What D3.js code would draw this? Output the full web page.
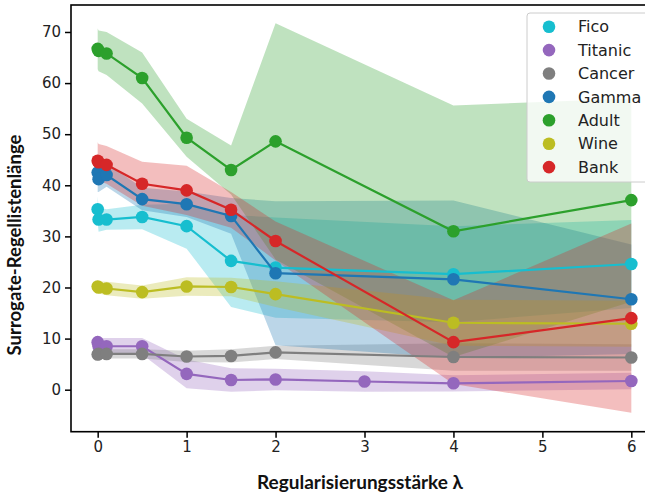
<!DOCTYPE html>
<html>
<head>
<meta charset="utf-8">
<script src="https://cdn.jsdelivr.net/npm/d3@7"></script>
<style>
  body { margin: 0; background: #fff; }
  svg { display: block; }
</style>
</head>
<body>
<div id="myChart"></div>
<script>
// Regularisierungsstärke (x-Werte), null = kein Messpunkt
const lambdas = [0, 0.01, 0.1, 0.5, 1, 1.5, 2, 3, 4, 6];

// Mittelwerte und Standardabweichungen je Datensatz
const fico      = [35.3, 33.3, 33.3, 33.8, 32.0, 25.2, 23.9, null, 22.6, 24.6];
const ficoSd    = [2.5, 2.4, 2.0, 2.4, 4.4, 9.0, 9.8, null, 9.4, 8.6];
const titanic   = [9.3, 8.5, 8.5, 8.5, 3.1, 1.9, 2.0, 1.6, 1.25, 1.7];
const titanicSd = [1.4, 1.6, 1.6, 1.6, 2.8, 2.3, 2.1, 2.0, 1.6, 1.6];
const cancer    = [6.9, 7.0, 7.0, 7.0, 6.5, 6.6, 7.3, null, 6.4, 6.3];
const cancerSd  = [0.9, 0.9, 0.9, 0.9, 1.1, 1.3, 1.3, null, 2.7, 2.6];
const gamma     = [42.5, 41.2, 42.0, 37.3, 36.3, 34.0, 22.8, null, 21.6, 17.7];
const gammaSd   = [3.8, 2.5, 2.3, 2.2, 2.5, 3.5, 14.1, null, 15.4, 10.7];
const adult     = [66.7, 66.3, 65.8, 61.0, 49.3, 43.0, 48.6, null, 31.0, 37.1];
const adultSd   = [4.0, 4.0, 4.2, 5.0, 3.7, 4.8, 23.1, null, 24.6, 19.9];
const wine      = [20.2, 20.0, 19.8, 19.1, 20.2, 20.1, 18.7, null, 13.1, 12.9];
const wineSd    = [1.2, 1.2, 1.3, 1.3, 1.8, 1.8, 2.5, null, 4.5, 4.5];
const bank      = [44.8, 44.5, 44.0, 40.3, 39.0, 35.2, 29.1, null, 9.3, 14.0];
const bankSd    = [3.6, 3.6, 3.7, 4.3, 4.8, 3.5, 3.8, null, 8.2, 18.5];

const seriesNames = ["Fico", "Titanic", "Cancer", "Gamma", "Adult", "Wine", "Bank"];
const colors = ["#17becf", "#9467bd", "#7f7f7f", "#1f77b4", "#2ca02c", "#bcbd22", "#d62728"];

const xTicks = [0, 1, 2, 3, 4, 5, 6];
const yTicks = [0, 10, 20, 30, 40, 50, 60, 70];

const series = [
    [fico, ficoSd], [titanic, titanicSd], [cancer, cancerSd], [gamma, gammaSd],
    [adult, adultSd], [wine, wineSd], [bank, bankSd]
];

// Abmessungen
const width = 645;
const height = 495;
const margin = { top: 5, left: 71 };
const plotW = 587;
const plotH = 426.7;

const svg = d3.select("#myChart")
    .append("svg")
    .attr("width", width)
    .attr("height", height);

const x = d3.scaleLinear().domain([-0.3, 6.3]).range([margin.left, margin.left + plotW]);
const y = d3.scaleLinear().domain([-8.22, 75.28]).range([margin.top + plotH, margin.top]);

svg.append("clipPath").attr("id", "clip")
    .append("rect")
    .attr("x", margin.left).attr("y", margin.top)
    .attr("width", plotW).attr("height", plotH);

const plot = svg.append("g").attr("clip-path", "url(#clip)");
const bandLayer = plot.append("g");
const lineLayer = plot.append("g");

const area = d3.area()
    .x(d => x(d.x))
    .y0(d => y(d.m - d.s))
    .y1(d => y(d.m + d.s));

const line = d3.line()
    .x(d => x(d.x))
    .y(d => y(d.m));

series.forEach(([means, sds], i) => {
    const pts = lambdas
        .map((l, j) => ({ x: l, m: means[j], s: sds[j] }))
        .filter(d => d.m !== null);

    // Streuband
    bandLayer.append("path")
        .datum(pts)
        .attr("d", area)
        .attr("fill", colors[i])
        .attr("fill-opacity", 0.3);

    // Linie + Punkte
    lineLayer.append("path")
        .datum(pts)
        .attr("d", line)
        .attr("fill", "none")
        .attr("stroke", colors[i])
        .attr("stroke-width", 2.2);

    lineLayer.selectAll(".dot" + i)
        .data(pts)
        .enter()
        .append("circle")
        .attr("cx", d => x(d.x))
        .attr("cy", d => y(d.m))
        .attr("r", 6.3)
        .attr("fill", colors[i]);
});

// Achsen
const xAxis = svg.append("g")
    .attr("transform", "translate(0," + (margin.top + plotH) + ")")
    .call(d3.axisBottom(x).tickValues(xTicks).tickFormat(d3.format("d")).tickSize(6).tickPadding(4));

const yAxis = svg.append("g")
    .attr("transform", "translate(" + margin.left + ",0)")
    .call(d3.axisLeft(y).tickValues(yTicks).tickFormat(d3.format("d")).tickSize(6).tickPadding(4));

[xAxis, yAxis].forEach(a => {
    a.select(".domain").remove();
    a.selectAll(".tick line").attr("stroke", "#000").attr("stroke-width", 1.5);
    a.selectAll(".tick text")
        .attr("fill", "#222")
        .style("font-family", "DejaVu Sans")
        .style("font-size", "15px");
});

// Rahmen
svg.append("rect")
    .attr("x", margin.left)
    .attr("y", margin.top)
    .attr("width", plotW)
    .attr("height", plotH)
    .attr("fill", "none")
    .attr("stroke", "#000")
    .attr("stroke-width", 1.6);

// Achsenbeschriftungen
svg.append("text")
    .attr("x", 360)
    .attr("y", 489)
    .attr("text-anchor", "middle")
    .style("font-family", "Lato")
    .style("font-weight", "bold")
    .style("font-size", "19px")
    .attr("fill", "#111")
    .text("Regularisierungsstärke λ");

svg.append("text")
    .attr("transform", "translate(21,245)rotate(-90)")
    .attr("text-anchor", "middle")
    .style("font-family", "Lato")
    .style("font-weight", "bold")
    .style("font-size", "18.5px")
    .attr("fill", "#111")
    .text("Surrogate-Regellistenlänge");

// Legende
const legend = svg.append("g").attr("transform", "translate(527,13)");
legend.append("rect")
    .attr("width", 140)
    .attr("height", 169)
    .attr("rx", 3)
    .attr("fill", "#fff")
    .attr("fill-opacity", 0.8)
    .attr("stroke", "#ccc")
    .attr("stroke-width", 1);

seriesNames.forEach((name, i) => {
    const row = legend.append("g").attr("transform", "translate(0," + (13.7 + i * 23.4) + ")");
    row.append("circle")
        .attr("cx", 22)
        .attr("cy", 0)
        .attr("r", 6.3)
        .attr("fill", colors[i]);
    row.append("text")
        .attr("x", 51)
        .attr("y", 0)
        .attr("dy", "0.36em")
        .style("font-family", "DejaVu Sans")
        .style("font-size", "16px")
        .attr("fill", "#222")
        .text(name);
});
</script>
</body>
</html>
